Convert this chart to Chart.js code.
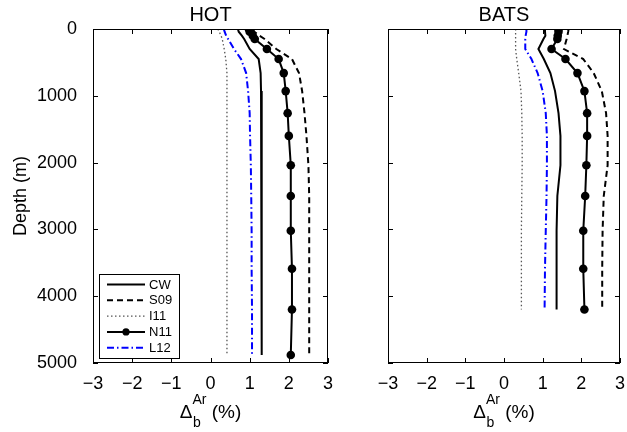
<!DOCTYPE html>
<html>
<head>
<meta charset="utf-8">
<script src="https://cdn.jsdelivr.net/npm/chart.js@4.4.0/dist/chart.umd.min.js"></script>
<style>
  body { margin: 0; background: #fff; }
  #wrap { position: relative; width: 627px; height: 432px; }
  canvas { position: absolute; left: 0; top: 0; }
</style>
</head>
<body>
<div id="wrap">
  <canvas id="hotChart" width="627" height="432"></canvas>
  <canvas id="batsChart" width="627" height="432"></canvas>
</div>
<script>
// depth levels (m) where the model profiles are given
const depths = [0, 40, 100, 150, 300, 450, 660, 930, 1260, 1600, 2040, 2500, 3020, 3590, 4200, 4880];
const batsDepths = depths.slice(0, 15);

const seriesNames = ['CW', 'S09', 'I11', 'N11', 'L12'];

// HOT profiles, Delta_b^Ar (%)
const hotCW  = [0.70, 0.72, 0.80, 0.86, 1.00, 1.23, 1.28, 1.29, 1.30, 1.30, 1.31, 1.31, 1.31, 1.31, 1.31, 1.31];
const hotS09 = [1.08, 1.12, 1.25, 1.38, 1.68, 2.08, 2.26, 2.34, 2.40, 2.45, 2.50, 2.52, 2.52, 2.52, 2.52, 2.52];
const hotI11 = [0.19, 0.22, 0.27, 0.30, 0.35, 0.39, 0.42, 0.42, 0.42, 0.42, 0.42, 0.42, 0.42, 0.42, 0.42, 0.42];
const hotN11 = [0.98, 1.00, 1.08, 1.13, 1.44, 1.74, 1.87, 1.92, 1.97, 2.00, 2.05, 2.05, 2.05, 2.08, 2.08, 2.05];
const hotL12 = [0.34, 0.36, 0.40, 0.45, 0.60, 0.78, 0.91, 0.96, 1.00, 1.01, 1.03, 1.04, 1.05, 1.05, 1.06, 1.06];

// BATS profiles, Delta_b^Ar (%)
const batsCW  = [1.05, 1.06, 1.07, 1.02, 0.89, 1.03, 1.20, 1.32, 1.41, 1.46, 1.46, 1.38, 1.36, 1.36, 1.36];
const batsS09 = [1.67, 1.66, 1.64, 1.62, 1.55, 2.05, 2.32, 2.53, 2.64, 2.68, 2.68, 2.58, 2.55, 2.54, 2.54];
const batsI11 = [0.30, 0.30, 0.30, 0.30, 0.30, 0.33, 0.38, 0.44, 0.46, 0.47, 0.47, 0.46, 0.45, 0.45, 0.45];
const batsN11 = [1.41, 1.41, 1.39, 1.38, 1.23, 1.59, 1.90, 2.08, 2.15, 2.15, 2.13, 2.10, 2.05, 2.05, 2.08];
const batsL12 = [0.58, 0.58, 0.56, 0.55, 0.55, 0.71, 0.87, 1.00, 1.08, 1.11, 1.11, 1.10, 1.08, 1.06, 1.05];

const xTicks = [-3, -2, -1, 0, 1, 2, 3];
const yTicks = [0, 1000, 2000, 3000, 4000, 5000];

const FONT = '"Liberation Sans", Arial, Helvetica, sans-serif';
Chart.defaults.font.family = FONT;
Chart.defaults.color = '#000';

// line styles per series
const styles = {
  CW:  { borderColor: '#000', borderWidth: 2, borderDash: [] },
  S09: { borderColor: '#000', borderWidth: 2, borderDash: [6, 4] },
  I11: { borderColor: '#555', borderWidth: 1.3, borderDash: [1.5, 2.5] },
  N11: { borderColor: '#000', borderWidth: 2, borderDash: [], pointRadius: 4.3 },
  L12: { borderColor: '#0000ff', borderWidth: 2, borderDash: [7, 3, 1.5, 3] }
};

function toPoints(vals, dep) {
  return vals.map((v, i) => ({ x: v, y: dep[i] }));
}

function makeDatasets(arrs, dep) {
  return seriesNames.map((name, i) => {
    const s = styles[name];
    return {
      label: name,
      data: toPoints(arrs[i], dep),
      showLine: true,
      borderColor: s.borderColor,
      borderWidth: s.borderWidth,
      borderDash: s.borderDash,
      backgroundColor: s.borderColor,
      pointRadius: s.pointRadius || 0,
      pointBackgroundColor: '#000',
      pointBorderWidth: 0,
      tension: 0
    };
  });
}

// box, inward ticks, titles and legend drawn on top
const decorPlugin = {
  id: 'decor',
  afterDraw(chart, args, opts) {
    const ctx = chart.ctx;
    const a = chart.chartArea;
    const xs = chart.scales.x, ys = chart.scales.y;
    ctx.save();
    ctx.strokeStyle = '#000';
    ctx.lineWidth = 1;
    ctx.setLineDash([]);
    ctx.strokeRect(a.left + 0.5, a.top + 0.5, a.right - a.left - 1, a.bottom - a.top - 1);
    const tl = 5;
    ctx.beginPath();
    xTicks.forEach(v => {
      const px = Math.round(xs.getPixelForValue(v)) + 0.5;
      ctx.moveTo(px, a.bottom); ctx.lineTo(px, a.bottom - tl);
      ctx.moveTo(px, a.top); ctx.lineTo(px, a.top + tl);
    });
    yTicks.forEach(v => {
      const py = Math.round(ys.getPixelForValue(v)) + 0.5;
      ctx.moveTo(a.left, py); ctx.lineTo(a.left + tl, py);
      ctx.moveTo(a.right, py); ctx.lineTo(a.right - tl, py);
    });
    ctx.stroke();

    // panel title
    const cx = (a.left + a.right) / 2;
    ctx.fillStyle = '#000';
    ctx.textAlign = 'center';
    ctx.textBaseline = 'alphabetic';
    ctx.font = '20px ' + FONT;
    ctx.fillText(opts.title, cx, 21);

    // x axis title: Delta_b^Ar (%)
    ctx.textAlign = 'left';
    ctx.font = '19px ' + FONT;
    const wD = ctx.measureText('\u0394').width;
    ctx.font = '14px ' + FONT;
    const wAr = ctx.measureText('Ar').width;
    ctx.font = '19px ' + FONT;
    const wP = ctx.measureText(' (%)').width;
    const total = wD + wAr + wP;
    let x0 = cx - total / 2;
    ctx.fillText('\u0394', x0, 418);
    ctx.font = '14px ' + FONT;
    ctx.fillText('b', x0 + wD + 0.5, 427);
    ctx.fillText('Ar', x0 + wD, 404);
    ctx.font = '19px ' + FONT;
    ctx.fillText(' (%)', x0 + wD + wAr, 418);

    if (opts.yTitle) {
      ctx.save();
      ctx.translate(26, (a.top + a.bottom) / 2);
      ctx.rotate(-Math.PI / 2);
      ctx.textAlign = 'center';
      ctx.font = '18px ' + FONT;
      ctx.fillText(opts.yTitle, 0, 0);
      ctx.restore();
    }

    if (opts.legend) {
      const lx = 99, ly = 274, lw = 80, lh = 84;
      ctx.fillStyle = '#fff';
      ctx.fillRect(lx, ly, lw, lh);
      ctx.strokeStyle = '#000';
      ctx.lineWidth = 1;
      ctx.strokeRect(lx + 0.5, ly + 0.5, lw, lh);
      seriesNames.forEach((name, i) => {
        const s = styles[name];
        const y = ly + 10.5 + i * 15.8;
        ctx.strokeStyle = s.borderColor;
        ctx.lineWidth = s.borderWidth;
        ctx.setLineDash(s.borderDash);
        ctx.beginPath();
        ctx.moveTo(107, y); ctx.lineTo(145, y);
        ctx.stroke();
        ctx.setLineDash([]);
        if (s.pointRadius) {
          ctx.fillStyle = '#000';
          ctx.beginPath();
          ctx.arc(126, y, 3.6, 0, Math.PI * 2);
          ctx.fill();
        }
        ctx.fillStyle = '#000';
        ctx.font = '13px ' + FONT;
        ctx.textBaseline = 'middle';
        ctx.fillText(name, 149, y + 0.5);
        ctx.textBaseline = 'alphabetic';
      });
    }
    ctx.restore();
  }
};

function makePanel(id, arrs, dep, opts) {
  return new Chart(document.getElementById(id), {
    type: 'scatter',
    data: { datasets: makeDatasets(arrs, dep) },
    plugins: [decorPlugin],
    options: {
      responsive: false,
      animation: false,
      events: [],
      layout: { padding: { top: 29, right: opts.padRight, bottom: 0, left: 0 } },
      plugins: {
        legend: { display: false },
        tooltip: { enabled: false },
        decor: opts
      },
      scales: {
        x: {
          type: 'linear', min: -3, max: 3,
          grid: { display: false },
          border: { display: false },
          afterBuildTicks: s => { s.ticks = xTicks.map(v => ({ value: v })); },
          afterFit: s => { s.height = 69; },
          ticks: {
            font: { size: 18 }, padding: 2, maxRotation: 0,
            callback: v => String(v).replace('-', '\u2212')
          }
        },
        y: {
          type: 'linear', min: 0, max: 5000, reverse: true,
          grid: { display: false },
          border: { display: false },
          afterBuildTicks: s => { s.ticks = yTicks.map(v => ({ value: v })); },
          afterFit: s => { s.width = opts.yWidth; },
          ticks: { display: opts.yLabels, font: { size: 18 }, padding: 8, callback: v => String(v) }
        }
      }
    }
  });
}

makePanel('hotChart', [hotCW, hotS09, hotI11, hotN11, hotL12], depths,
  { title: 'HOT', yTitle: 'Depth (m)', legend: true, yLabels: true, yWidth: 93, padRight: 299 });
makePanel('batsChart', [batsCW, batsS09, batsI11, batsN11, batsL12], batsDepths,
  { title: 'BATS', yTitle: '', legend: false, yLabels: false, yWidth: 388, padRight: 6 });
</script>
</body>
</html>
